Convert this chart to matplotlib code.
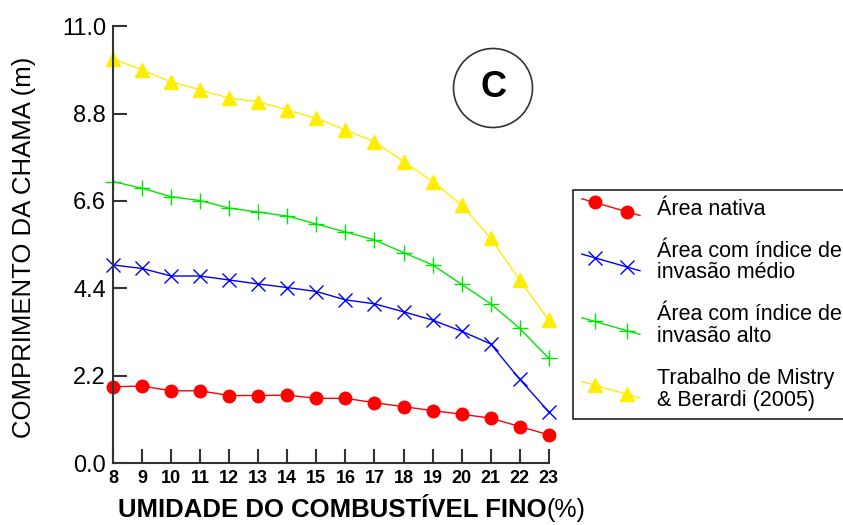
import matplotlib
matplotlib.use("Agg")
import matplotlib.pyplot as plt
from matplotlib.patches import Ellipse
from matplotlib.lines import Line2D
from matplotlib.legend_handler import HandlerLine2D

plt.rcParams['font.family'] = ['Liberation Sans', 'DejaVu Sans']

# fine fuel moisture (%)
umidade = [8, 9, 10, 11, 12, 13, 14, 15, 16, 17, 18, 19, 20, 21, 22, 23]

# flame length (m)
nativa = [1.92, 1.94, 1.82, 1.82, 1.70, 1.70, 1.71, 1.63, 1.63, 1.52, 1.42, 1.32, 1.23, 1.13, 0.92, 0.71]
invasao_medio = [4.99, 4.90, 4.71, 4.71, 4.61, 4.51, 4.42, 4.32, 4.11, 4.01, 3.81, 3.60, 3.32, 3.00, 2.11, 1.29]
invasao_alto = [7.09, 6.92, 6.71, 6.61, 6.42, 6.32, 6.22, 6.02, 5.82, 5.62, 5.30, 4.99, 4.50, 4.01, 3.39, 2.64]
mistry = [10.18, 9.90, 9.60, 9.40, 9.19, 9.10, 8.89, 8.68, 8.39, 8.09, 7.59, 7.09, 6.50, 5.66, 4.61, 3.60]

labels = ["Área nativa",
          "Área com índice de\ninvasão médio",
          "Área com índice de\ninvasão alto",
          "Trabalho de Mistry\n& Berardi (2005)"]

yticks = [0.0, 2.2, 4.4, 6.6, 8.8, 11.0]


class SlopedHandler(HandlerLine2D):
    # legend icon: a short descending line with two inset markers
    def create_artists(self, legend, orig_handle, xdescent, ydescent,
                       width, height, fontsize, trans):
        drop = 12
        x0, x1 = -xdescent, width - xdescent
        yc = height / 2 - ydescent
        line = Line2D([x0, x1], [yc + drop / 2, yc - drop / 2])
        self.update_prop(line, orig_handle, legend)
        line.set_marker('None')
        pad = 0.22 * width
        f = pad / width
        mk = Line2D([x0 + pad, x1 - pad],
                    [yc + drop / 2 - drop * f, yc - drop / 2 + drop * f])
        self.update_prop(mk, orig_handle, legend)
        mk.set_linestyle('None')
        line.set_transform(trans)
        mk.set_transform(trans)
        return [line, mk]


fig = plt.figure(figsize=(8.43, 5.25), dpi=100)
ax = fig.add_axes([0.134, 0.118, 0.517, 0.832])

ax.plot(umidade, nativa, color='#ff0000', marker='o', ms=9, lw=1, clip_on=False, label=labels[0])
ax.plot(umidade, invasao_medio, color='#0000ff', marker='x', ms=10, mew=1, lw=1, clip_on=False, label=labels[1])
ax.plot(umidade, invasao_alto, color='#00e600', marker='+', ms=11, mew=1, lw=1, clip_on=False, label=labels[2])
ax.plot(umidade, mistry, color='#ffee00', marker='^', ms=10, mfc='#ffee00', mec='#ffee00', lw=1, clip_on=False, label=labels[3])

ax.set_xlim(8, 23)
ax.set_ylim(0, 11)
ax.set_xticks(umidade)
ax.set_yticks(yticks)
ax.set_yticklabels([f"{v:.1f}" for v in yticks], fontsize=17)
ax.tick_params(axis='x', direction='in', length=10, width=1.5, labelsize=13, pad=5, color='#333333')
ax.tick_params(axis='y', direction='in', length=10, width=1.5, pad=5, color='#333333')
for t in ax.get_xticklabels():
    t.set_fontweight('bold')
for s in ['top', 'right']:
    ax.spines[s].set_visible(False)
for s in ['left', 'bottom']:
    ax.spines[s].set_linewidth(1.5)
    ax.spines[s].set_color('#333333')

xl = fig.text(118 / 843, 0.005, "UMIDADE DO COMBUSTÍVEL FINO", fontsize=18.5, fontweight='bold',
              ha='left', va='bottom')
ax.annotate("(%)", xy=(1, 0), xycoords=xl, fontsize=18, ha='left', va='bottom',
            annotation_clip=False)
fig.text(0.028, 0.529, "COMPRIMENTO DA CHAMA (m)", fontsize=18.5, rotation=90,
         ha='center', va='center')

# circled panel letter
fig.patches.append(Ellipse((493 / 843, 1 - 88 / 525), 79 / 843, 79 / 525,
                           transform=fig.transFigure, fill=False, ec='#333333', lw=1.2))
fig.text(493 / 843, 1 - 88 / 525, "C", fontsize=26, fontweight='bold', ha='center', va='center')

leg = fig.legend(loc='upper left', bbox_to_anchor=(0.680, 0.638), numpoints=2,
                 handler_map={Line2D: SlopedHandler()},
                 fontsize=15.5, handlelength=2.7, handletextpad=0.8, labelspacing=0.97,
                 borderaxespad=0, borderpad=0.4, fancybox=False, framealpha=1,
                 edgecolor='#222222')
leg.get_frame().set_linewidth(1.2)
for t in leg.get_texts():
    t.set_linespacing(1.05)

fig.savefig("out.png", dpi=100)
